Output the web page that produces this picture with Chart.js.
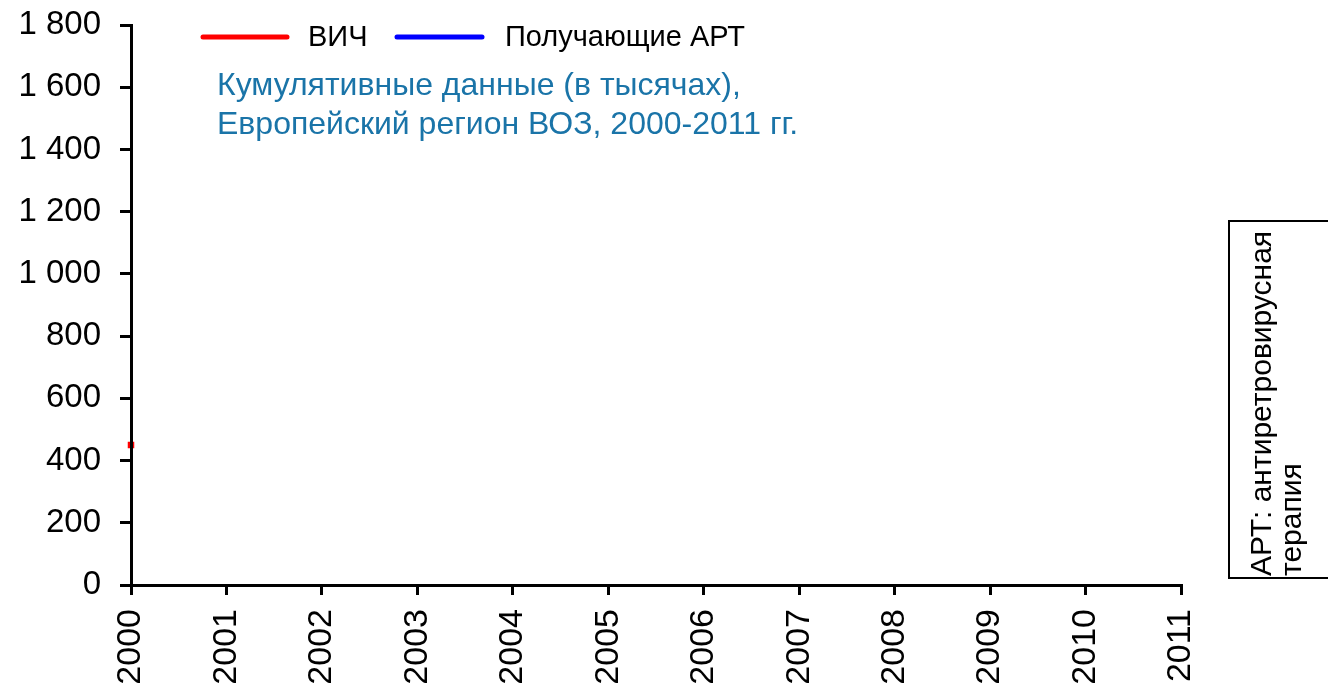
<!DOCTYPE html>
<html>
<head>
<meta charset="utf-8">
<script src="https://cdn.jsdelivr.net/npm/chart.js@4/dist/chart.umd.min.js"></script>
<style>
  html, body { margin: 0; padding: 0; background: #fff; }
  #wrap { width: 1328px; height: 684px; }
</style>
</head>
<body>
<div id="wrap"><canvas id="hivChart" width="1328" height="684"></canvas></div>
<script>
// данные
const years = ['2000', '2001', '2002', '2003', '2004', '2005', '2006', '2007', '2008', '2009', '2010', '2011'];
const hivValues = [450, null, null, null, null, null, null, null, null, null, null, null];
const artValues = [null, null, null, null, null, null, null, null, null, null, null, null];
const yTicks = [0, 200, 400, 600, 800, 1000, 1200, 1400, 1600, 1800];
const titleLines = ['Кумулятивные данные (в тысячах),', 'Европейский регион ВОЗ, 2000-2011 гг.'];
const noteLines = ['АРТ: антиретровирусная', 'терапия'];

const FONT = '"Liberation Sans", Arial, sans-serif';

function fmt(v) {
    return String(v).replace(/\B(?=(\d{3})+(?!\d))/g, ' ');
}

// легенда, подзаголовок и пояснение справа
const overlay = {
    id: 'overlay',
    afterDraw(chart) {
        const ctx = chart.ctx;
        ctx.save();

        // легенда
        const legendX = [[203, 287, 308], [397, 482, 505]];
        chart.data.datasets.forEach((ds, i) => {
            const [x1, x2, tx] = legendX[i];
            ctx.strokeStyle = ds.borderColor;
            ctx.lineWidth = 5;
            ctx.lineCap = 'round';
            ctx.beginPath();
            ctx.moveTo(x1, 37);
            ctx.lineTo(x2, 37);
            ctx.stroke();
            ctx.fillStyle = '#000';
            ctx.font = '29px ' + FONT;
            ctx.textAlign = 'left';
            ctx.textBaseline = 'middle';
            ctx.fillText(ds.label, tx, 38);
        });

        // подзаголовок
        ctx.fillStyle = '#1A74A8';
        ctx.font = '32px ' + FONT;
        ctx.textBaseline = 'middle';
        ctx.fillText(titleLines[0], 217, 86);
        ctx.fillText(titleLines[1], 217, 125);

        // рамка с пояснением
        ctx.strokeStyle = '#000';
        ctx.lineWidth = 2;
        ctx.strokeRect(1229, 221, 110, 357);
        ctx.translate(1263, 576);
        ctx.rotate(-Math.PI / 2);
        ctx.fillStyle = '#000';
        ctx.font = '30px ' + FONT;
        ctx.textAlign = 'left';
        ctx.fillText(noteLines[0], 0, 0);
        ctx.fillText(noteLines[1], 0, 30);
        ctx.restore();
    }
};

const ctx = document.getElementById('hivChart').getContext('2d');

const hivChart = new Chart(ctx, {
    type: 'line',
    data: {
        labels: years,
        datasets: [{
            label: 'ВИЧ',
            data: hivValues,
            borderColor: '#FF0000',
            backgroundColor: '#FF0000',
            borderWidth: 5,
            pointStyle: 'rect',
            pointRadius: 4.6,
            pointBorderWidth: 0,
            pointBackgroundColor: '#FF0000',
            clip: false
        }, {
            label: 'Получающие АРТ',
            data: artValues,
            borderColor: '#0000FF',
            backgroundColor: '#0000FF',
            borderWidth: 5,
            pointRadius: 0
        }]
    },
    options: {
        responsive: false,
        animation: false,
        layout: { padding: { left: 0, right: 147, top: 25, bottom: 0 } },
        plugins: {
            legend: { display: false },
            tooltip: { enabled: false }
        },
        scales: {
            x: {
                type: 'category',
                offset: false,
                grid: { offset: false, drawOnChartArea: false, drawTicks: true, tickLength: 10, color: '#000', lineWidth: 3 },
                border: { color: '#000', width: 3, z: 1 },
                ticks: {
                    color: '#000',
                    font: { family: FONT, size: 34 },
                    minRotation: 90,
                    maxRotation: 90,
                    autoSkip: false,
                    padding: 14
                },
                afterFit(scale) { scale.height = 99; }
            },
            y: {
                min: 0,
                max: 1800,
                afterBuildTicks(scale) { scale.ticks = yTicks.map(v => ({ value: v })); },
                grid: { drawOnChartArea: false, drawTicks: true, tickLength: 11, color: '#000', lineWidth: 3 },
                border: { color: '#000', width: 3, z: 1 },
                ticks: {
                    color: '#000',
                    font: { family: FONT, size: 33 },
                    padding: 19,
                    callback: v => fmt(v)
                },
                afterFit(scale) {
                    scale.width = 131;
                    scale.paddingTop = 0;
                    scale.paddingBottom = 0;
                }
            }
        }
    },
    plugins: [overlay]
});
</script>
</body>
</html>
